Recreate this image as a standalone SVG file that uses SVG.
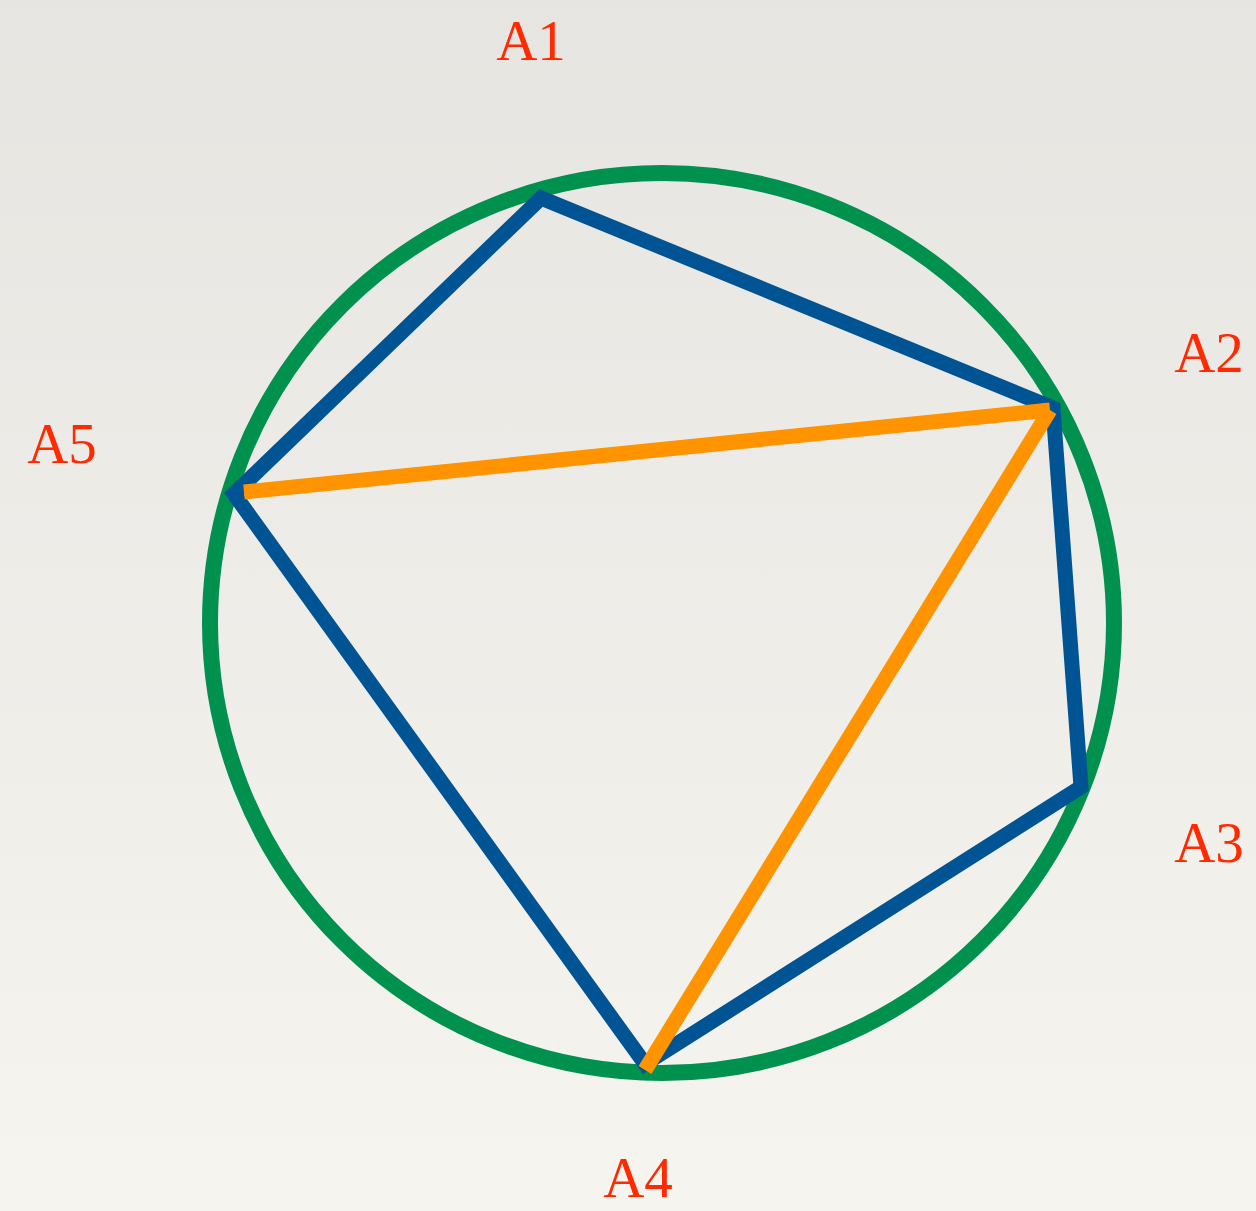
<svg xmlns="http://www.w3.org/2000/svg" width="1256" height="1211" viewBox="0 0 1256 1211">
  <defs>
    <linearGradient id="bg" x1="0" y1="0" x2="0" y2="1">
      <stop offset="0" stop-color="#e7e5e1"/>
      <stop offset="1" stop-color="#f6f4ef"/>
    </linearGradient>
  </defs>
  <style>
    .lbl { font-family: "Liberation Serif", "DejaVu Serif", serif; font-size: 57px; fill: #ff2a00; text-anchor: middle; }
    .circ { fill: none; stroke: #00914f; stroke-width: 16; }
    .blue { fill: none; stroke: #005493; stroke-width: 15; stroke-linejoin: miter; stroke-miterlimit: 10; }
    .orange { fill: none; stroke: #ff9300; stroke-width: 15; stroke-linecap: butt; }
  </style>
  <rect width="1256" height="1211" fill="url(#bg)"/>
  <g id="circle">
    <ellipse class="circ" cx="662" cy="623" rx="452" ry="450"/>
  </g>
  <g id="connectors">
    <polygon class="blue" points="541,198 1053,408 1081,787 645,1064 234,494"/>
    <line class="orange" x1="244" y1="492" x2="1050" y2="410"/>
    <line class="orange" x1="1050" y1="410" x2="645" y2="1070"/>
  </g>
  <g id="A1"><text class="lbl" x="531" y="60">A1</text></g>
  <g id="A2"><text class="lbl" x="1209" y="372">A2</text></g>
  <g id="A3"><text class="lbl" x="1209" y="862">A3</text></g>
  <g id="A4"><text class="lbl" x="638" y="1197">A4</text></g>
  <g id="A5"><text class="lbl" x="62" y="463">A5</text></g>
</svg>
